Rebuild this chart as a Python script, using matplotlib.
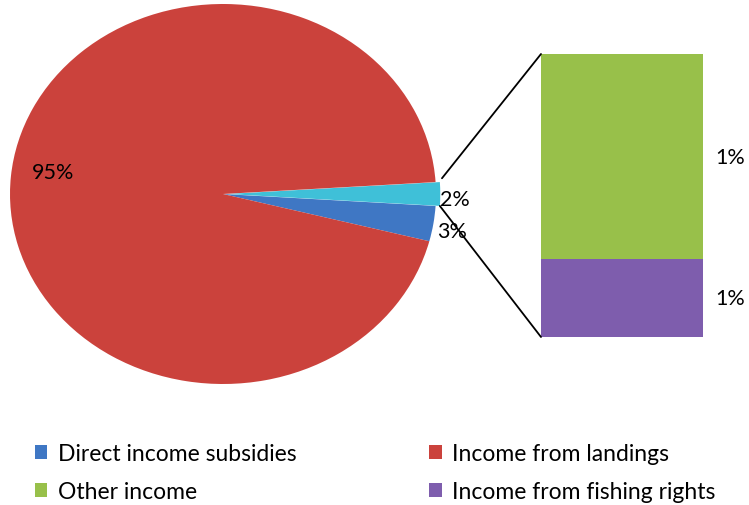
import numpy as np
import matplotlib
matplotlib.use("Agg")
import matplotlib.pyplot as plt
from matplotlib.patches import ConnectionPatch, Patch

plt.rcParams['font.family'] = ['Lato', 'DejaVu Sans']

# ---- data ----
pie_labels = ["Direct income subsidies", "Other", "Income from landings"]
pie_values = [3.0, 2.0, 95.0]
pie_colors = ["#3F77C4", "#3FC0D8", "#CB423C"]

bar_labels = ["Income from fishing rights", "Other income"]
bar_values = [0.55, 1.45]
bar_colors = ["#7E5DAD", "#98C04A"]

legend_order = ["Direct income subsidies", "Income from landings",
                "Other income", "Income from fishing rights"]

W, H = 749, 506
fig = plt.figure(figsize=(W / 100, H / 100), dpi=100)

# pie axes (slightly elliptical like the reference)
axp = fig.add_axes([10 / W, (H - 385) / H, 426 / W, 380 / H])
wedges, _ = axp.pie(pie_values, colors=pie_colors, startangle=-14.4,
                    counterclock=True, explode=[0.0, 0.02, 0.0],
                    wedgeprops=dict(linewidth=0))
axp.set_aspect('auto')
axp.set_xlim(-1.0, 1.0)
axp.set_ylim(-1.0, 1.0)
axp.axis('off')

total = sum(pie_values)
for w, v in zip(wedges, pie_values):
    mid = np.deg2rad((w.theta1 + w.theta2) / 2)
    pct = f"{round(100 * v / total):d}%"
    if v > 50:
        r = 0.80
        axp.text(r * np.cos(mid), r * np.sin(mid) + 0.04, pct, ha='center',
                 va='center', fontsize=15.5, color='black')
    else:
        r = 1.09
        axp.text(r * np.cos(mid), r * np.sin(mid) - 0.025, pct, ha='center',
                 va='center', fontsize=15.5, color='black')

# bar axes
axb = fig.add_axes([541 / W, (H - 338) / H, 162 / W, 283 / H])
bottom = 0.0
for lab, v, c in zip(bar_labels, bar_values, bar_colors):
    axb.bar(0, v, bottom=bottom, width=1.0, color=c, edgecolor='none')
    axb.text(0.67, bottom + v / 2, f"{round(v):d}%", ha='center',
             va='center', fontsize=15.5)
    bottom += v
axb.set_xlim(-0.5, 0.5)
axb.set_ylim(0, sum(bar_values))
axb.axis('off')

# connector lines from the edges of the "Other" wedge to the bar corners
w_other = wedges[1]
cx, cy = w_other.center
r = w_other.r
t1, t2 = np.deg2rad(w_other.theta1), np.deg2rad(w_other.theta2)
p_top = (cx + r * np.cos(t2) + 0.01, cy + r * np.sin(t2) + 0.02)
p_bot = (cx + r * np.cos(t1), cy + r * np.sin(t1))
con1 = ConnectionPatch(xyA=p_top, coordsA=axp.transData,
                       xyB=(-0.5, sum(bar_values)), coordsB=axb.transData,
                       color='black', linewidth=1.3)
con2 = ConnectionPatch(xyA=p_bot, coordsA=axp.transData,
                       xyB=(-0.5, 0), coordsB=axb.transData,
                       color='black', linewidth=1.3)
fig.add_artist(con1)
fig.add_artist(con2)

# legend
color_map = {"Direct income subsidies": pie_colors[0],
             "Income from landings": pie_colors[2],
             "Other income": bar_colors[1],
             "Income from fishing rights": bar_colors[0]}
handles = [Patch(facecolor=color_map[l], edgecolor='none', label=l)
           for l in legend_order]
# ncol=2 fills column-wise: reorder
ordered = [handles[0], handles[2], handles[1], handles[3]]
fig.legend(handles=ordered, ncol=2, frameon=False, fontsize=16.5,
           loc='lower left', bbox_to_anchor=(14 / W, -0.035),
           handlelength=0.55, handleheight=0.55, handletextpad=0.45,
           columnspacing=5.8, labelspacing=0.75)

fig.savefig("out.png", dpi=100)
